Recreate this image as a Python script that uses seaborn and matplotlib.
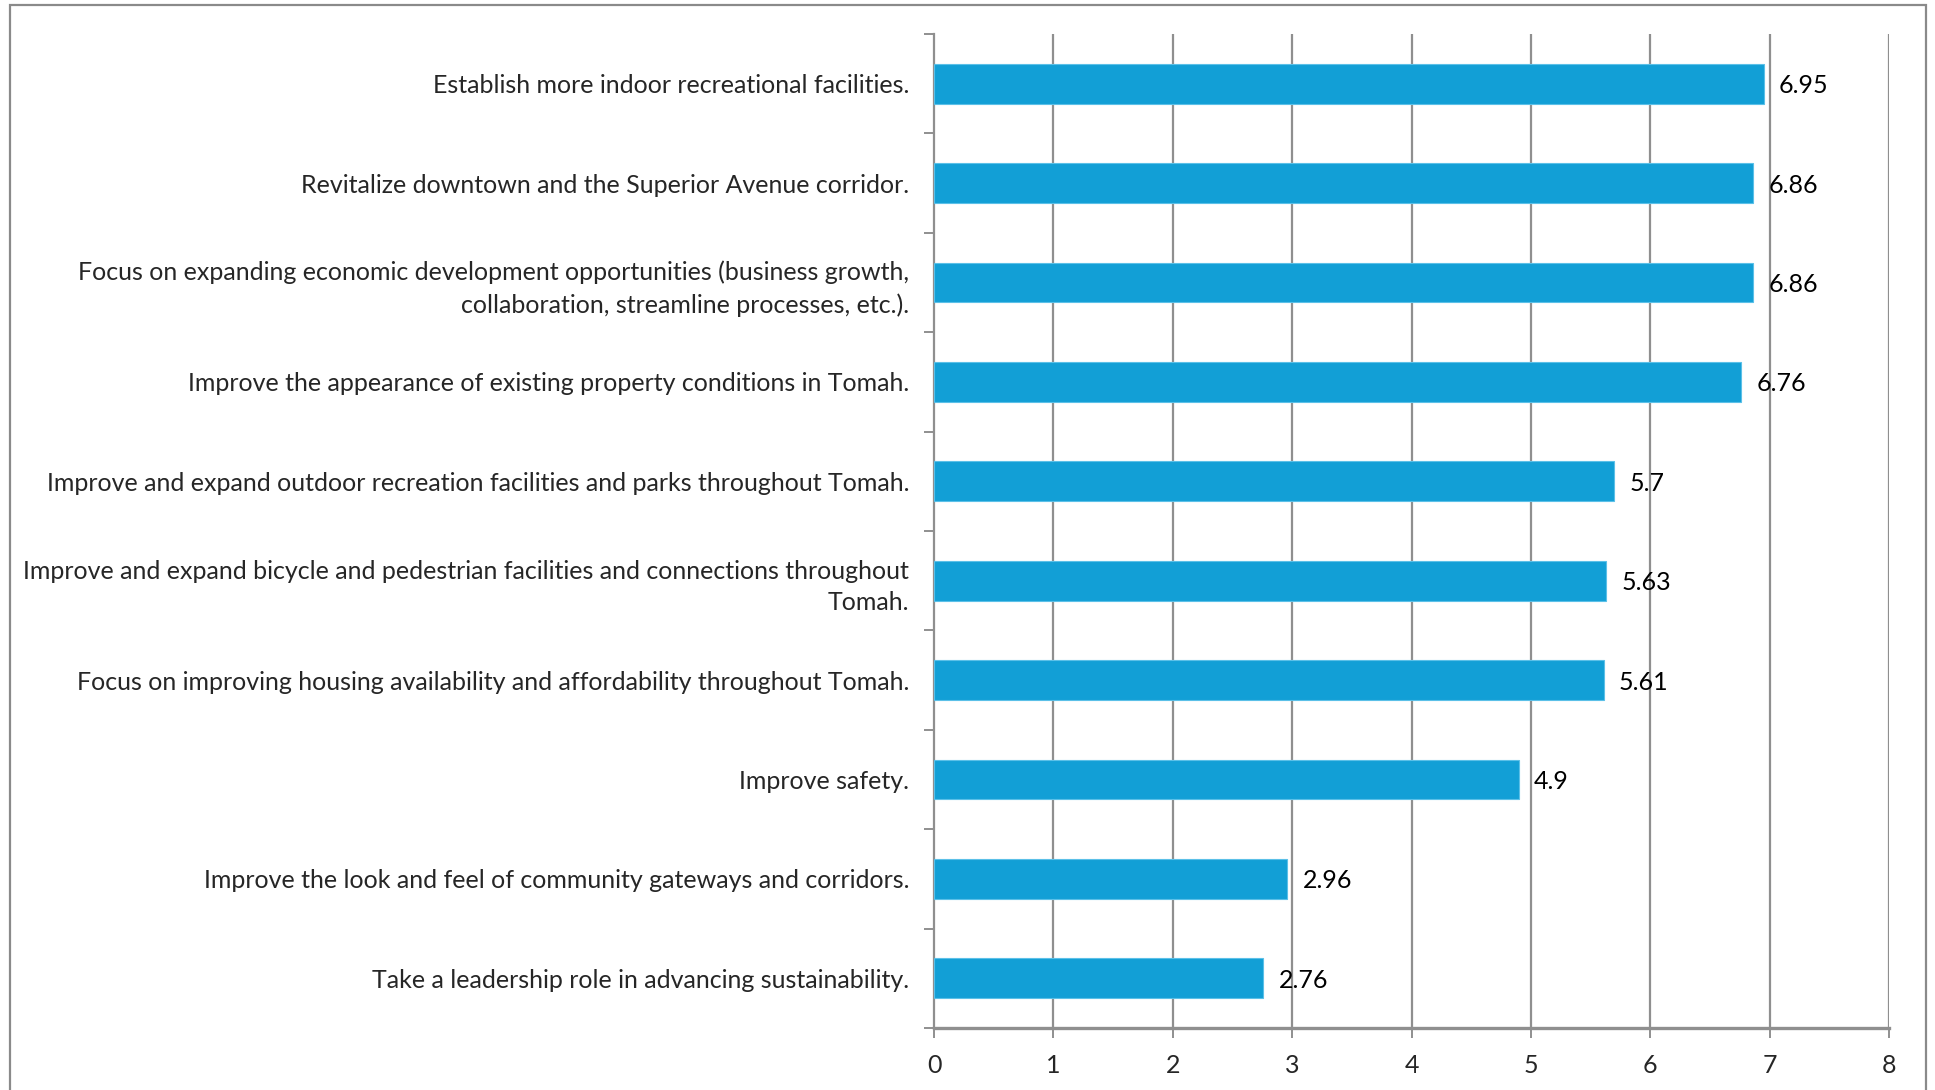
import matplotlib
matplotlib.use("Agg")
import matplotlib.pyplot as plt
import matplotlib.patches as mpatches
from matplotlib.ticker import FixedLocator
import seaborn as sns
import pandas as pd

categories = [
    "Establish more indoor recreational facilities.",
    "Revitalize downtown and the Superior Avenue corridor.",
    "Focus on expanding economic development opportunities (business growth,\ncollaboration, streamline processes, etc.).",
    "Improve the appearance of existing property conditions in Tomah.",
    "Improve and expand outdoor recreation facilities and parks throughout Tomah.",
    "Improve and expand bicycle and pedestrian facilities and connections throughout\nTomah.",
    "Focus on improving housing availability and affordability throughout Tomah.",
    "Improve safety.",
    "Improve the look and feel of community gateways and corridors.",
    "Take a leadership role in advancing sustainability.",
]
scores = [6.95, 6.86, 6.86, 6.76, 5.7, 5.63, 5.61, 4.9, 2.96, 2.76]
score_labels = ["6.95", "6.86", "6.86", "6.76", "5.7", "5.63", "5.61", "4.9", "2.96", "2.76"]
x_ticks = [0, 1, 2, 3, 4, 5, 6, 7, 8]

df = pd.DataFrame({"item": categories, "score": scores})

sns.set_theme(style="white")
plt.rcParams["font.family"] = ["Lato", "DejaVu Sans"]

W, H = 1935, 1090
fig = plt.figure(figsize=(W / 100, H / 100), dpi=100)
fig.patch.set_facecolor("white")

ax = fig.add_axes([934 / W, 62 / H, (1889 - 934) / W, (1028 - 34) / H])

bar_color = "#129fd6"
grid_color = "#8f8f8f"
fs = 18

sns.barplot(data=df, x="score", y="item", orient="h", color=bar_color,
            width=0.4, saturation=1, edgecolor="#5bc0e8", linewidth=0.8,
            ax=ax, zorder=3)

ax.set_xlim(0, 8)
ax.set_ylim(len(categories) - 0.5, -0.5)
ax.set_xlabel("")
ax.set_ylabel("")

# vertical gridlines at integer scores
ax.xaxis.set_major_locator(FixedLocator(x_ticks))
ax.set_xticklabels([str(t) for t in x_ticks])
for t in x_ticks[1:]:
    ax.axvline(t, color=grid_color, lw=1.6, zorder=1)

# category labels at centres, tick marks at category boundaries
ax.set_yticks(range(len(categories)))
ax.set_yticklabels(categories, fontsize=fs, ha="right", linespacing=1.45)
ax.yaxis.set_minor_locator(FixedLocator([i - 0.5 for i in range(len(categories) + 1)]))
ax.tick_params(axis="y", which="major", length=0, pad=18)
ax.tick_params(axis="y", which="minor", left=True, length=7, width=1.4, color=grid_color)
ax.tick_params(axis="x", which="major", bottom=True, length=7, width=1.4,
               color=grid_color, labelsize=fs, pad=12)

for side in ["top", "right"]:
    ax.spines[side].set_visible(False)
ax.spines["left"].set_color(grid_color)
ax.spines["left"].set_linewidth(1.6)
ax.spines["bottom"].set_color(grid_color)
ax.spines["bottom"].set_linewidth(2.4)

# value labels beside each bar
for i, (v, lab) in enumerate(zip(scores, score_labels)):
    ax.annotate(lab, xy=(v, i), xytext=(11, 0), textcoords="offset points",
                ha="left", va="center_baseline", fontsize=fs, color="black", zorder=4)

# chart frame
frame = mpatches.Rectangle((10 / W, -0.05), (1926 - 10) / W, (H - 5) / H + 0.05,
                           transform=fig.transFigure, fill=False,
                           edgecolor="#8a8a8a", linewidth=1.6, zorder=0)
fig.patches.append(frame)

fig.savefig("out.png", dpi=100, facecolor="white")
